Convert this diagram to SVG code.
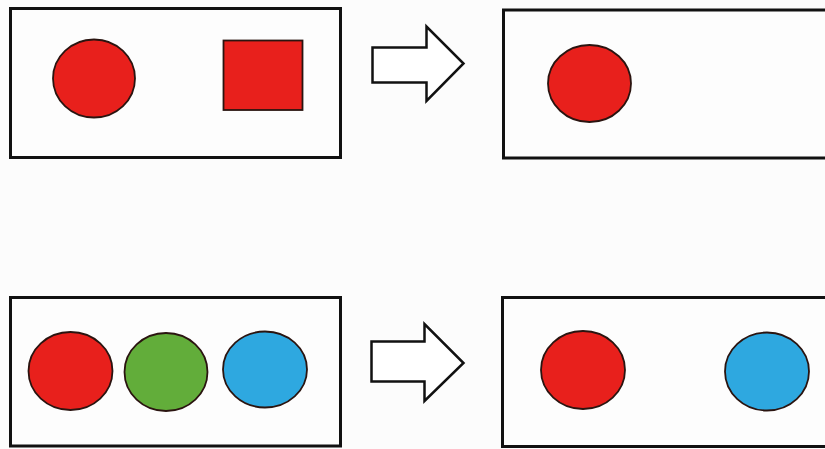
<svg xmlns="http://www.w3.org/2000/svg" width="825" height="449" viewBox="0 0 825 449">
<style>
.box{fill:#fdfdfd;stroke:#111;stroke-width:3}
.shape{stroke:#2a1410;stroke-width:1.8}
.red{fill:#e8201c}
.green{fill:#62ad3a}
.blue{fill:#2ea8e0}
.arrow{fill:#fff;stroke:#111;stroke-width:2.5;stroke-linejoin:miter}
</style>
<rect width="825" height="449" fill="#fcfcfc"/>
<g id="box-top-left">
<rect class="box" x="10.5" y="8.5" width="330" height="149"/>
<ellipse class="shape red" cx="94" cy="78.5" rx="41" ry="39"/>
<rect class="shape red" x="223.5" y="40.5" width="79" height="69.5"/>
</g>
<g id="box-top-right">
<rect class="box" x="503.5" y="10" width="330" height="148"/>
<ellipse class="shape red" cx="589.5" cy="83.5" rx="41.5" ry="38.5"/>
</g>
<g id="box-bottom-left">
<rect class="box" x="10.5" y="297.5" width="330" height="148.5"/>
<ellipse class="shape red" cx="70.5" cy="371" rx="42" ry="39"/>
<ellipse class="shape green" cx="166" cy="372" rx="41.5" ry="39"/>
<ellipse class="shape blue" cx="265" cy="369.5" rx="42" ry="38"/>
</g>
<g id="box-bottom-right">
<rect class="box" x="502.5" y="297.5" width="330" height="149"/>
<ellipse class="shape red" cx="583" cy="370" rx="42" ry="39"/>
<ellipse class="shape blue" cx="767" cy="371.5" rx="42" ry="39"/>
</g>
<g id="connectors">
<path class="arrow" d="M372.5 47.5 H426.5 V26.5 L463.5 63.5 L426.5 101 V82.5 H372.5 Z"/>
<path class="arrow" d="M371.5 341.5 H424.5 V324 L463.5 363 L424.5 401 V381.5 H371.5 Z"/>
</g>
</svg>
